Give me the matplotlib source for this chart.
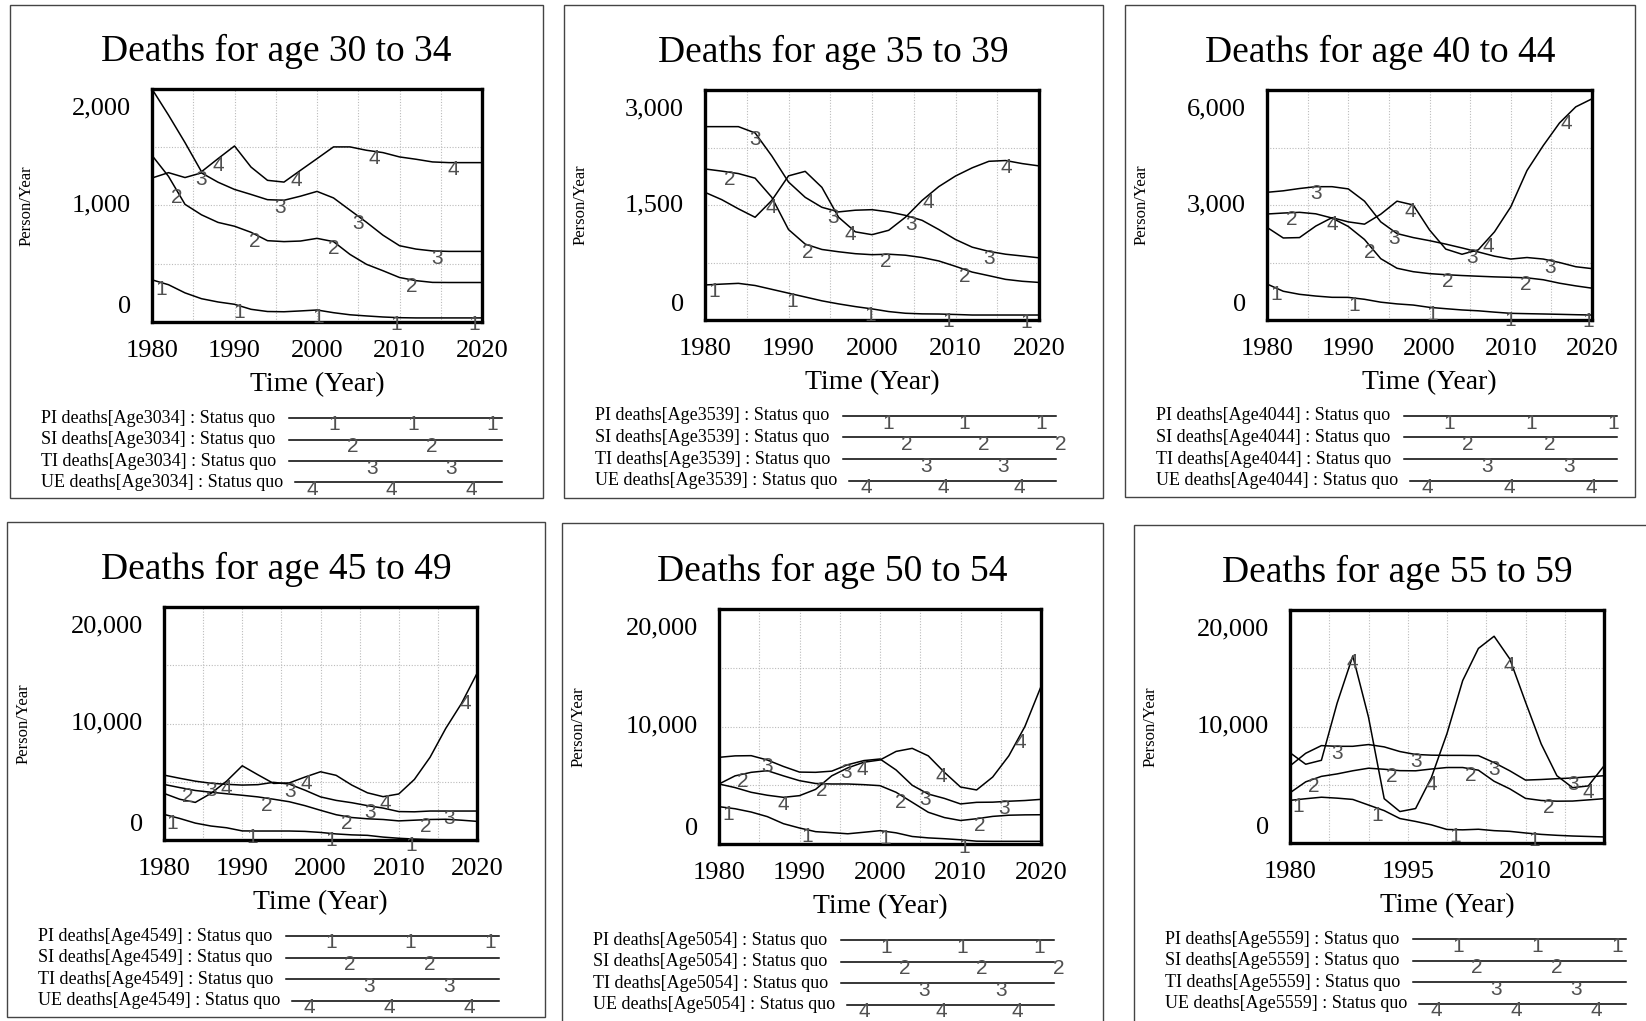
# LIBRARY IMPORT
import matplotlib
matplotlib.use('Agg')
import matplotlib.pyplot as plt
from matplotlib import transforms
from matplotlib.patches import Rectangle
from matplotlib.lines import Line2D
import numpy as np

plt.rcParams['font.family'] = ['Liberation Serif', 'DejaVu Serif']

W, H = 1646, 1021

# DATA (Person/Year, read every two years off the picture)
years = np.arange(1980, 2021, 2)

titles = ['Deaths for age 30 to 34', 'Deaths for age 35 to 39', 'Deaths for age 40 to 44',
          'Deaths for age 45 to 49', 'Deaths for age 50 to 54', 'Deaths for age 55 to 59']
age_codes = ['Age3034', 'Age3539', 'Age4044', 'Age4549', 'Age5054', 'Age5559']
series_names = ['PI deaths', 'SI deaths', 'TI deaths', 'UE deaths']
y_max = [2000, 3000, 6000, 20000, 20000, 20000]
x_ticks = [[1980, 1990, 2000, 2010, 2020]] * 5 + [[1980, 1995, 2010]]

pi_3034 = [362, 320, 250, 200, 172, 152, 109, 90, 88, 95, 103, 80, 62, 52, 43, 37, 35, 35, 35, 35, 35]
si_3034 = [1430, 1250, 1010, 920, 855, 822, 770, 698, 690, 695, 718, 690, 580, 495, 440, 382, 355, 340, 339, 339, 339]
ti_3034 = [1236, 1282, 1240, 1280, 1200, 1138, 1095, 1050, 1045, 1080, 1121, 1065, 960, 856, 745, 655, 626, 610, 606, 606, 606]
ue_3034 = [2000, 1776, 1540, 1290, 1402, 1511, 1330, 1216, 1201, 1302, 1402, 1503, 1503, 1474, 1454, 1417, 1397, 1374, 1368, 1368, 1368]

pi_3539 = [457, 468, 478, 450, 400, 350, 300, 250, 210, 175, 145, 110, 88, 80, 78, 72, 65, 65, 65, 65, 65]
si_3539 = [1970, 1942, 1910, 1850, 1600, 1180, 990, 920, 890, 865, 852, 858, 845, 815, 770, 700, 625, 578, 530, 505, 490]
ti_3539 = [2522, 2522, 2522, 2440, 2140, 1800, 1600, 1470, 1410, 1432, 1439, 1410, 1365, 1300, 1180, 1050, 950, 895, 858, 835, 811]
ue_3539 = [1665, 1570, 1450, 1340, 1560, 1880, 1939, 1730, 1340, 1150, 1113, 1170, 1340, 1560, 1740, 1878, 1985, 2070, 2080, 2040, 2010]

pi_4044 = [939, 750, 670, 625, 592, 590, 540, 465, 420, 390, 330, 295, 262, 240, 205, 174, 165, 157, 148, 138, 130]
si_4044 = [2765, 2790, 2809, 2770, 2660, 2440, 2100, 1600, 1350, 1260, 1210, 1182, 1160, 1142, 1125, 1113, 1100, 1050, 960, 890, 830]
ti_4044 = [3331, 3370, 3430, 3478, 3478, 3420, 3100, 2560, 2255, 2150, 2070, 1980, 1880, 1775, 1665, 1590, 1630, 1590, 1500, 1390, 1340]
ue_4044 = [2417, 2140, 2150, 2450, 2670, 2560, 2500, 2760, 3100, 3000, 2350, 1850, 1715, 1830, 2300, 2950, 3900, 4550, 5140, 5560, 5770]

pi_4549 = [2200, 1850, 1450, 1200, 1050, 780, 771, 771, 771, 740, 650, 520, 440, 400, 250, 150, 80, 30, 20, 20, 20]
si_4549 = [4771, 4500, 4250, 4100, 3970, 3840, 3700, 3500, 3286, 2950, 2550, 2170, 1930, 1820, 1760, 1640, 1700, 1760, 1780, 1700, 1600]
ti_4549 = [5571, 5300, 5050, 4870, 4780, 4714, 4750, 4950, 4800, 4280, 3700, 3400, 3200, 2950, 2740, 2440, 2420, 2486, 2486, 2486, 2486]
ue_4549 = [4000, 3500, 3228, 4000, 5050, 6371, 5600, 4857, 4900, 5400, 5857, 5550, 4714, 4050, 3720, 3950, 5200, 7100, 9571, 11700, 14300]

pi_5054 = [3177, 3000, 2720, 2330, 1730, 1362, 1050, 965, 870, 1000, 1135, 950, 640, 520, 450, 360, 240, 227, 227, 227, 227]
si_5054 = [5107, 5800, 6100, 6241, 5800, 5390, 5150, 5107, 5107, 5050, 4965, 4400, 3550, 2700, 2250, 2000, 2150, 2350, 2450, 2480, 2490]
ti_5054 = [7376, 7500, 7518, 7150, 6600, 6120, 6100, 6200, 6750, 7100, 7235, 6300, 5000, 4250, 3880, 3410, 3546, 3560, 3640, 3700, 3800]
ue_5054 = [5107, 4800, 4400, 4150, 3972, 4114, 4650, 5800, 6480, 6960, 7150, 7880, 8140, 7500, 6100, 4850, 4600, 5700, 7500, 10000, 13400]

pi_5559 = [3662, 3800, 3930, 3850, 3740, 3260, 2780, 2100, 1850, 1560, 1160, 1130, 1180, 1060, 1000, 860, 740, 660, 600, 560, 520]
si_5559 = [4310, 5250, 5720, 5930, 6200, 6420, 6330, 6210, 6197, 6350, 6479, 6479, 6250, 5300, 4648, 3830, 3650, 3590, 3600, 3700, 3803]
ti_5559 = [6620, 7700, 8360, 8300, 8300, 8450, 8250, 7850, 7600, 7540, 7521, 7521, 7500, 6900, 6197, 5400, 5450, 5520, 5580, 5680, 5775]
ue_5559 = [7750, 6761, 7100, 12000, 16056, 10800, 3803, 2700, 2958, 5600, 9400, 13944, 16700, 17747, 15800, 12100, 8500, 5775, 4750, 4900, 6620]

panel_data = [
    [pi_3034, si_3034, ti_3034, ue_3034],
    [pi_3539, si_3539, ti_3539, ue_3539],
    [pi_4044, si_4044, ti_4044, ue_4044],
    [pi_4549, si_4549, ti_4549, ue_4549],
    [pi_5054, si_5054, ti_5054, ue_5054],
    [pi_5559, si_5559, ti_5559, ue_5559],
]

# LAYOUT (pixels, origin top-left)
boxes = [(10, 5, 543, 498), (564, 5, 1103, 498), (1125, 5, 1635, 497),
         (7, 522, 545, 1017), (562, 523, 1103, 1030), (1134, 525, 1660, 1030)]
axes_px = [(152, 89, 482, 322), (705, 90, 1039, 320), (1267, 90, 1592, 320),
           (164, 607, 477, 840), (719, 609, 1041, 844), (1290, 610, 1604, 843)]
marker_off = [1.1, 3.0, 6.0, 8.0]
marker_step = [9.5, 9.35, 9.6, 10.15, 9.8, 10.0]
legend_off = [0.21, 0.30, 0.39, 0.11]
legend_step = [0.372, 0.36, 0.385, 0.375, 0.36, 0.375]

num_font = 'Liberation Sans'
num_color = '#505050'


def fx(x):
    return x / W


def fy(y):
    return 1 - y / H


# PLOT
fig = plt.figure(figsize=(W / 100, H / 100), dpi=100)

for i in range(6):
    bl, bt, br, bb = boxes[i]
    al, at, ar, ab = axes_px[i]

    # panel frame
    fig.add_artist(Rectangle((fx(bl), fy(bb)), (br - bl) / W, (bb - bt) / H,
                             transform=fig.transFigure, fill=False, lw=1.0, ec='#444444'))

    ax = fig.add_axes([fx(al), fy(ab), (ar - al) / W, (ab - at) / H])
    ax.set_xlim(1980, 2020)
    ax.set_ylim(0, y_max[i])

    for k, vals in enumerate(panel_data[i]):
        ax.plot(years, vals, color='black', lw=1.1)
        # numbered markers along each line
        down = transforms.offset_copy(ax.transData, fig=fig, y=-7, units='dots')
        for x in np.arange(1980 + marker_off[k], 2020.01, marker_step[i]):
            y = np.interp(x, years, vals)
            ax.text(x, y, str(k + 1), transform=down, ha='center', va='center',
                    fontsize=15, color=num_color, fontfamily=num_font)

    ax.set_xticks(x_ticks[i])
    ax.set_xticklabels([str(t) for t in x_ticks[i]], fontsize=19)
    ax.set_xticks(np.arange(1980, 2021, 5), minor=True)
    ax.set_yticks(np.linspace(0, y_max[i], 5))
    ax.set_yticklabels([])
    ax.tick_params(which='both', length=0)
    ax.tick_params(axis='x', pad=13)
    ax.set_axisbelow(True)
    ax.grid(which='both', color='#bbbbbb', ls=(0, (1, 1.5)), lw=0.8)
    for sp in ax.spines.values():
        sp.set_linewidth(2.4)

    # y labels: top, middle, bottom (end labels pulled inside the axis)
    for v, dy in [(0, 15), (y_max[i] / 2, 0), (y_max[i], -19)]:
        tr = transforms.blended_transform_factory(ax.transAxes, ax.transData) + \
            transforms.ScaledTranslation(-21 / 100, dy / 100, fig.dpi_scale_trans)
        ax.text(0, v, f'{v:,.0f}', transform=tr, ha='right', va='center', fontsize=19)

    fig.text(fx((bl + br) / 2), fy(at - 38), titles[i], ha='center', va='center', fontsize=27)
    fig.text(fx((al + ar) / 2), fy(ab + 63), 'Time (Year)', ha='center', va='center', fontsize=20)
    fig.text(fx(bl + 17), fy((at + ab) / 2), 'Person/Year', rotation=90,
             ha='center', va='center', fontsize=12)

    # legend
    rows = [ab + 96, ab + 117.5, ab + 139, ab + 160.5]
    for k, name in enumerate(series_names):
        r = rows[k]
        fig.text(fx(bl + 31), fy(r), f'{name}[{age_codes[i]}] : Status quo',
                 ha='left', va='center', fontsize=13)
        x0 = bl + 279 + (6 if k == 3 else 0)
        x1 = bl + 492
        fig.add_artist(Line2D([fx(x0), fx(x1)], [fy(r), fy(r)], transform=fig.transFigure,
                              color='black', lw=1.1))
        frac = legend_off[k]
        while frac <= 1.025:
            fig.text(fx(bl + 279 + frac * 213), fy(r + 7), str(k + 1), ha='center', va='center',
                     fontsize=15, color=num_color, fontfamily=num_font)
            frac += legend_step[i]

fig.savefig('out.png', dpi=100)
